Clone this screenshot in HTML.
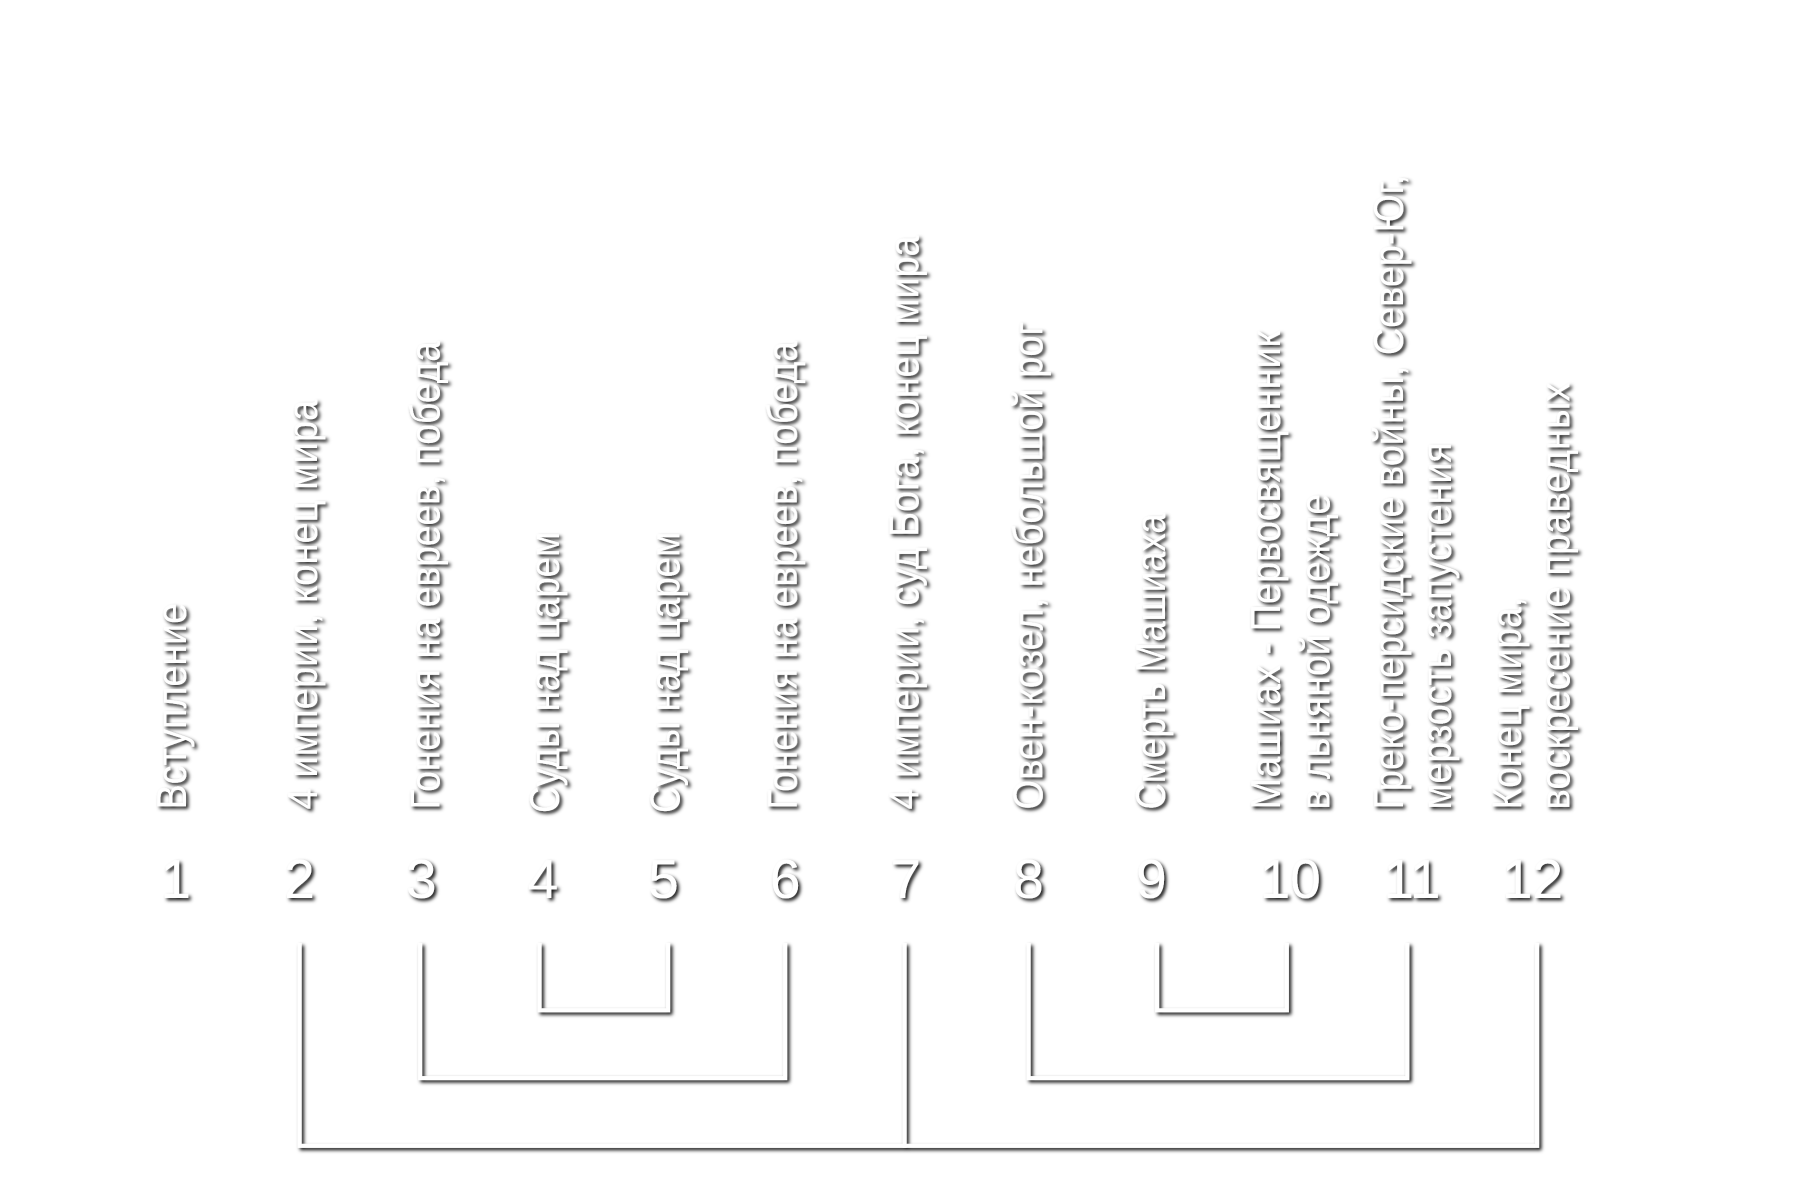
<!DOCTYPE html>
<html><head><meta charset="utf-8"><style>
html,body{margin:0;padding:0;background:#fff;}
svg{display:block;}
.t{font-family:"Liberation Sans Narrow","Liberation Sans",sans-serif;font-size:36px;fill:#fff;}
.n{font-family:"Liberation Sans",sans-serif;font-size:48px;fill:#fff;text-anchor:middle;}
.l{stroke:#fff;stroke-width:3.5;fill:none;stroke-linecap:square;}
</style></head><body>
<svg width="1800" height="1200" viewBox="0 0 1568 1045" xmlns="http://www.w3.org/2000/svg">
<defs>
<filter id="s" x="-20%" y="-20%" width="140%" height="140%">
<feDropShadow dx="2" dy="2" stdDeviation="1.6" flood-color="#000" flood-opacity="0.95"/>
</filter>
</defs>
<g filter="url(#s)">
<g class="t">
<text transform="translate(162,705) rotate(-90)" textLength="180" lengthAdjust="spacingAndGlyphs">Вступление</text>
<text transform="translate(276,705) rotate(-90)" textLength="357" lengthAdjust="spacingAndGlyphs">4 империи, конец мира</text>
<text transform="translate(383,705) rotate(-90)" textLength="408" lengthAdjust="spacingAndGlyphs">Гонения на евреев, победа</text>
<text transform="translate(487,708) rotate(-90)" textLength="245" lengthAdjust="spacingAndGlyphs">Суды над царем</text>
<text transform="translate(592,708) rotate(-90)" textLength="245" lengthAdjust="spacingAndGlyphs">Суды над царем</text>
<text transform="translate(694,705) rotate(-90)" textLength="408" lengthAdjust="spacingAndGlyphs">Гонения на евреев, победа</text>
<text transform="translate(800,705) rotate(-90)" textLength="500" lengthAdjust="spacingAndGlyphs">4 империи, суд Бога, конец мира</text>
<text transform="translate(908,705) rotate(-90)" textLength="425" lengthAdjust="spacingAndGlyphs">Овен-козел, небольшой рог</text>
<text transform="translate(1015,705) rotate(-90)" textLength="258" lengthAdjust="spacingAndGlyphs">Смерть Машиаха</text>
<text transform="translate(1115,705) rotate(-90)" textLength="417" lengthAdjust="spacingAndGlyphs">Машиах - Первосвященник</text>
<text transform="translate(1158,705) rotate(-90)" textLength="275" lengthAdjust="spacingAndGlyphs">в льняной одежде</text>
<text transform="translate(1222,705) rotate(-90)" textLength="553" lengthAdjust="spacingAndGlyphs">Греко-персидские войны, Север-Юг,</text>
<text transform="translate(1264,705) rotate(-90)" textLength="320" lengthAdjust="spacingAndGlyphs">мерзость запустения</text>
<text transform="translate(1325,705) rotate(-90)" textLength="185" lengthAdjust="spacingAndGlyphs">Конец мира,</text>
<text transform="translate(1367,705) rotate(-90)" textLength="372" lengthAdjust="spacingAndGlyphs">воскресение праведных</text>
</g>
<g class="n">
<text x="153" y="782">1</text>
<text x="261" y="782">2</text>
<text x="367" y="782">3</text>
<text x="473" y="782">4</text>
<text x="578" y="782">5</text>
<text x="684" y="782">6</text>
<text x="789" y="782">7</text>
<text x="896" y="782">8</text>
<text x="1003" y="782">9</text>
<text x="1124" y="782">10</text>
<text x="1230" y="782">11</text>
<text x="1335" y="782">12</text>
</g>
<g class="l">
<path d="M470 823 V880 H582 V823"/>
<path d="M1008 823 V880 H1121 V823"/>
<path d="M366 823 V939 H684 V823"/>
<path d="M896 823 V939 H1226 V823"/>
<path d="M261 823 V998 H1339 V823"/>
<path d="M788 823 V998"/>
</g>
</g>
</svg>
</body></html>
